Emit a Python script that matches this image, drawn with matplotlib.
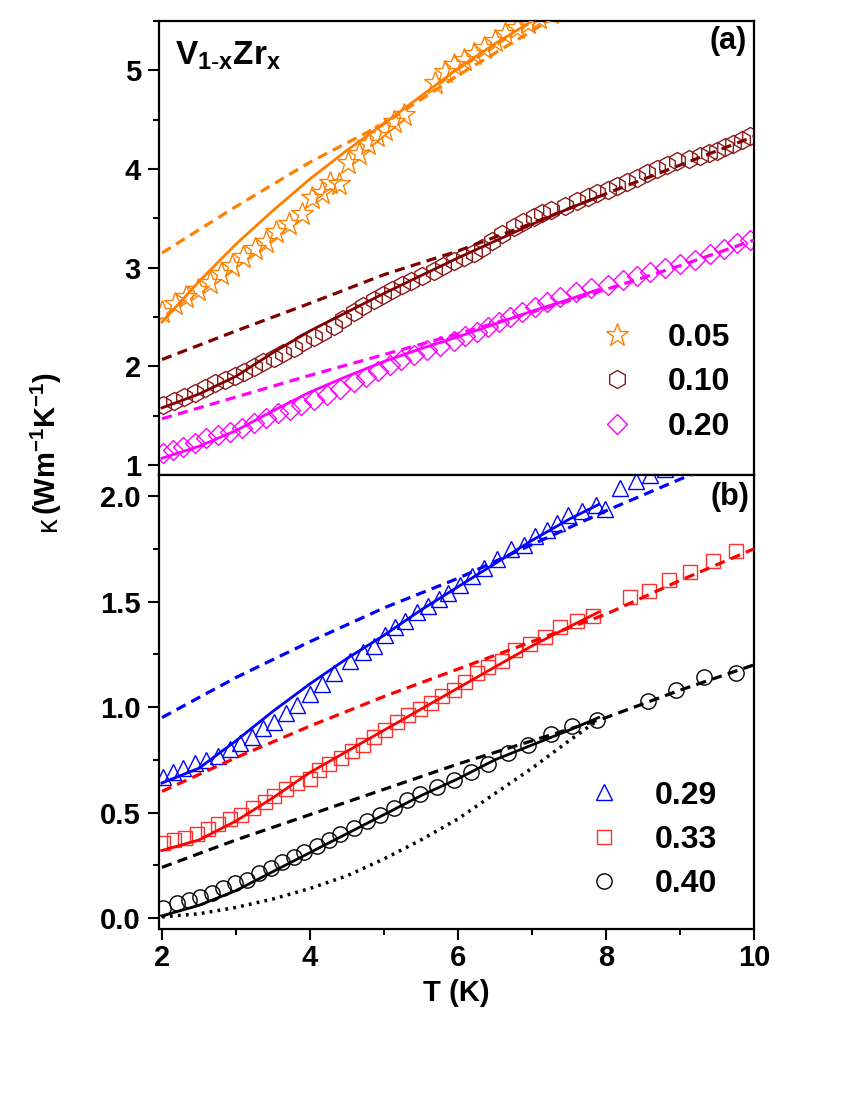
import matplotlib
matplotlib.use("Agg")
import matplotlib.pyplot as plt
from matplotlib.ticker import MultipleLocator, FormatStrFormatter

plt.rcParams['font.family'] = ['Liberation Sans', 'DejaVu Sans']
plt.rcParams['mathtext.default'] = 'regular'

# ---------------- panel (a) data ----------------
T_005 = [2.0, 2.17, 2.33, 2.49, 2.65, 2.8, 2.95, 3.1, 3.26, 3.4, 3.54, 3.71, 3.89, 4.03, 4.16, 4.27,
         4.39, 4.52, 4.66, 4.79, 4.91, 5.02, 5.13, 5.27, 5.69, 5.83, 5.94, 6.08, 6.21, 6.35, 6.5,
         6.64, 6.8, 6.95, 7.1, 7.25]
k_005 = [2.55, 2.63, 2.70, 2.77, 2.85, 2.94, 3.02, 3.11, 3.19, 3.26, 3.36, 3.44, 3.54, 3.71, 3.76, 3.86,
         3.85, 4.06, 4.15, 4.25, 4.33, 4.40, 4.48, 4.55, 4.87, 4.98, 5.05, 5.10, 5.17, 5.23, 5.30,
         5.37, 5.43, 5.48, 5.53, 5.58]

T_010 = [2.02, 2.16, 2.30, 2.44, 2.58, 2.72, 2.85, 2.98, 3.11, 3.24, 3.37, 3.51, 3.64, 3.78, 3.91, 4.05,
         4.18, 4.32, 4.45, 4.59, 4.72, 4.86, 4.98, 5.11, 5.24, 5.37, 5.52, 5.67, 5.80, 5.94, 6.08,
         6.21, 6.33, 6.46, 6.60, 6.75, 6.88, 7.02, 7.14, 7.26, 7.44, 7.61, 7.75, 7.88, 8.02, 8.15,
         8.29, 8.42, 8.56, 8.69, 8.83, 8.96, 9.12, 9.27, 9.39, 9.50, 9.61, 9.72, 9.84, 9.95]
k_010 = [1.61, 1.65, 1.69, 1.73, 1.78, 1.83, 1.86, 1.90, 1.94, 1.99, 2.04, 2.09, 2.14, 2.19, 2.25, 2.30,
         2.35, 2.41, 2.48, 2.55, 2.61, 2.67, 2.72, 2.77, 2.82, 2.87, 2.92, 2.97, 3.02, 3.07, 3.11,
         3.15, 3.20, 3.27, 3.34, 3.41, 3.46, 3.51, 3.55, 3.59, 3.63, 3.68, 3.72, 3.76, 3.79, 3.83,
         3.87, 3.91, 3.96, 4.00, 4.04, 4.08, 4.10, 4.13, 4.16, 4.18, 4.22, 4.25, 4.29, 4.33]

T_020 = [2.02, 2.15, 2.29, 2.44, 2.60, 2.76, 2.92, 3.08, 3.24, 3.41, 3.57, 3.73, 3.88, 4.05, 4.23, 4.41,
         4.59, 4.76, 4.92, 5.08, 5.23, 5.40, 5.58, 5.76, 5.94, 6.10, 6.25, 6.40, 6.55, 6.70, 6.86,
         7.04, 7.20, 7.38, 7.60, 7.80, 8.03, 8.23, 8.42, 8.60, 8.80, 9.00, 9.20, 9.41, 9.60, 9.77, 9.95]
k_020 = [1.12, 1.15, 1.18, 1.22, 1.27, 1.31, 1.34, 1.38, 1.43, 1.48, 1.53, 1.56, 1.61, 1.66, 1.71, 1.77,
         1.84, 1.89, 1.95, 2.01, 2.07, 2.12, 2.17, 2.21, 2.26, 2.31, 2.35, 2.40, 2.45, 2.50, 2.55,
         2.60, 2.65, 2.70, 2.75, 2.79, 2.83, 2.88, 2.92, 2.96, 3.00, 3.04, 3.08, 3.14, 3.19, 3.25, 3.28]

# ---------------- panel (b) data ----------------
T_029 = [2.02, 2.15, 2.29, 2.45, 2.60, 2.76, 2.92, 3.06, 3.22, 3.37, 3.51, 3.67, 3.82, 4.00, 4.16, 4.32,
         4.54, 4.72, 4.86, 5.02, 5.15, 5.29, 5.45, 5.60, 5.74, 5.87, 6.03, 6.19, 6.35, 6.53, 6.71,
         6.89, 7.04, 7.20, 7.34, 7.49, 7.68, 7.86, 7.99, 8.19, 8.40, 8.60, 8.80, 9.00]
k_029 = [0.67, 0.69, 0.71, 0.735, 0.75, 0.77, 0.80, 0.83, 0.86, 0.90, 0.93, 0.97, 1.01, 1.06, 1.11, 1.16,
         1.22, 1.26, 1.29, 1.34, 1.38, 1.41, 1.45, 1.48, 1.51, 1.54, 1.58, 1.62, 1.66, 1.70, 1.75,
         1.77, 1.81, 1.84, 1.87, 1.91, 1.93, 1.96, 1.94, 2.04, 2.07, 2.10, 2.13, 2.16]

T_033 = [2.02, 2.16, 2.31, 2.47, 2.62, 2.76, 2.92, 3.07, 3.23, 3.39, 3.52, 3.68, 3.83, 4.00, 4.12, 4.26,
         4.42, 4.57, 4.71, 4.86, 5.02, 5.18, 5.32, 5.48, 5.63, 5.79, 5.95, 6.10, 6.25, 6.41, 6.59,
         6.77, 6.97, 7.18, 7.38, 7.61, 7.83, 8.33, 8.58, 8.85, 9.14, 9.45, 9.75]
k_033 = [0.355, 0.37, 0.38, 0.40, 0.42, 0.445, 0.47, 0.49, 0.52, 0.55, 0.58, 0.61, 0.64, 0.66, 0.70, 0.73,
         0.76, 0.79, 0.82, 0.86, 0.89, 0.93, 0.96, 0.99, 1.02, 1.05, 1.08, 1.12, 1.16, 1.19, 1.22,
         1.27, 1.30, 1.33, 1.38, 1.41, 1.43, 1.52, 1.55, 1.60, 1.64, 1.69, 1.74]

T_040 = [2.02, 2.20, 2.36, 2.52, 2.67, 2.83, 2.99, 3.15, 3.31, 3.47, 3.62, 3.78, 3.92, 4.10, 4.25, 4.41,
         4.59, 4.77, 4.95, 5.13, 5.31, 5.49, 5.72, 5.94, 6.17, 6.41, 6.68, 6.95, 7.25, 7.54, 7.88,
         8.57, 8.95, 9.33, 9.75]
k_040 = [0.046, 0.07, 0.086, 0.101, 0.117, 0.141, 0.165, 0.18, 0.212, 0.236, 0.267, 0.29, 0.315, 0.339,
         0.37, 0.40, 0.426, 0.458, 0.49, 0.52, 0.56, 0.59, 0.62, 0.655, 0.69, 0.73, 0.78, 0.82, 0.87,
         0.91, 0.94, 1.03, 1.08, 1.14, 1.16]

# ---------------- model curves ----------------
T_fit = [2.0, 2.5, 3.0, 3.5, 4.0, 4.5, 5.0, 5.5, 6.0, 6.5, 7.0, 7.5, 7.9]
fit_005 = [2.45, 2.86, 3.24, 3.58, 3.90, 4.19, 4.46, 4.74, 5.02, 5.27, 5.50, 5.72, 5.90]
fit_010 = [1.58, 1.72, 1.90, 2.14, 2.36, 2.55, 2.74, 2.92, 3.10, 3.27, 3.44, 3.60, 3.72]
fit_020 = [1.07, 1.19, 1.35, 1.55, 1.74, 1.90, 2.05, 2.18, 2.30, 2.43, 2.56, 2.68, 2.78]
fit_029 = [0.64, 0.71, 0.84, 0.98, 1.11, 1.23, 1.34, 1.46, 1.57, 1.68, 1.79, 1.89, 1.96]
fit_033 = [0.32, 0.37, 0.46, 0.57, 0.69, 0.79, 0.89, 0.99, 1.09, 1.19, 1.29, 1.38, 1.45]
fit_040 = [0.01, 0.06, 0.13, 0.22, 0.31, 0.40, 0.49, 0.58, 0.66, 0.75, 0.82, 0.89, 0.95]
dot_040 = [0.005, 0.02, 0.05, 0.09, 0.14, 0.20, 0.28, 0.37, 0.47, 0.59, 0.71, 0.84, 0.94]

T_dash = [2, 3, 4, 5, 6, 7, 8, 9, 10]
dash_005 = [3.15, 3.62, 4.07, 4.46, 4.95, 5.40, 5.85, 6.30, 6.75]
dash_010 = [2.07, 2.36, 2.64, 2.93, 3.17, 3.45, 3.75, 4.04, 4.33]
dash_020 = [1.47, 1.69, 1.91, 2.12, 2.33, 2.55, 2.78, 3.02, 3.28]
dash_029 = [0.95, 1.14, 1.31, 1.47, 1.61, 1.77, 1.93, 2.08, 2.22]
dash_033 = [0.60, 0.76, 0.91, 1.05, 1.18, 1.31, 1.44, 1.60, 1.75]
dash_040 = [0.24, 0.37, 0.49, 0.61, 0.73, 0.84, 0.95, 1.08, 1.20]

labels_a = ['0.05', '0.10', '0.20']
labels_b = ['0.29', '0.33', '0.40']

ORANGE = '#FF8000'
DRED = '#800000'
DRED_M = '#8B1A1A'
MAG = '#FF00FF'
BLUE = '#0000FF'
RED = '#FF0000'
RED_M = '#FF3030'
BLK = '#000000'

fig = plt.figure(figsize=(8.5, 11), dpi=100)
ax1 = fig.add_axes([0.1871, 0.5682, 0.700, 0.4127])
ax2 = fig.add_axes([0.1871, 0.1555, 0.700, 0.4127])

LW = 2.0
DASH = (0, (3.2, 2.0))
DOT = (0, (0.8, 1.5))

def series(ax, T, k, marker, ms, col, label):
    ax.plot(T, k, linestyle='none', marker=marker, ms=ms, mfc='none', mec=col, mew=1.0,
            label=label, zorder=2)

series(ax1, T_005, k_005, '*', 17, ORANGE, labels_a[0])
series(ax1, T_010, k_010, 'h', 13, DRED_M, labels_a[1])
series(ax1, T_020, k_020, 'D', 10, MAG, labels_a[2])
for fit, dash, col in [(fit_005, dash_005, ORANGE), (fit_010, dash_010, DRED), (fit_020, dash_020, MAG)]:
    ax1.plot(T_fit, fit, color=col, lw=LW, zorder=3)
    ax1.plot(T_dash, dash, color=col, lw=2.3, linestyle=DASH, zorder=3)

series(ax2, T_029, k_029, '^', 12, BLUE, labels_b[0])
series(ax2, T_033, k_033, 's', 10.5, RED_M, labels_b[1])
series(ax2, T_040, k_040, 'o', 11, BLK, labels_b[2])
for fit, dash, col in [(fit_029, dash_029, BLUE), (fit_033, dash_033, RED), (fit_040, dash_040, BLK)]:
    ax2.plot(T_fit, fit, color=col, lw=LW, zorder=3)
    ax2.plot(T_dash, dash, color=col, lw=2.3, linestyle=DASH, zorder=3)
ax2.plot(T_fit, dot_040, color=BLK, lw=2.5, linestyle=DOT, zorder=3)

# axes styling
for ax in (ax1, ax2):
    ax.set_xlim(1.96, 10)
    for s in ax.spines.values():
        s.set_linewidth(1.6)
    ax.xaxis.set_major_locator(MultipleLocator(2))
    ax.xaxis.set_minor_locator(MultipleLocator(1))
    ax.tick_params(axis='both', which='both', direction='out', width=1.5,
                   labelsize=21, right=False, top=False)
    ax.tick_params(axis='both', which='major', length=8)
    ax.tick_params(axis='both', which='minor', length=4.5)
    ax.tick_params(axis='y', pad=5)

ax1.set_ylim(0.9, 5.5)
ax1.yaxis.set_major_locator(MultipleLocator(1))
ax1.yaxis.set_minor_locator(MultipleLocator(0.5))
ax1.tick_params(axis='x', which='both', length=8, labelbottom=False)

ax2.set_ylim(-0.052, 2.1)
ax2.yaxis.set_major_locator(MultipleLocator(0.5))
ax2.yaxis.set_minor_locator(MultipleLocator(0.25))
ax2.yaxis.set_major_formatter(FormatStrFormatter('%.1f'))
ax2.tick_params(axis='x', pad=3)

for ax in (ax1, ax2):
    for lab in ax.get_xticklabels() + ax.get_yticklabels():
        lab.set_fontweight('bold')

ax2.set_xlabel('T (K)', fontsize=21, fontweight='bold', labelpad=5)

fig.text(0.055, 1 - 443 / 1100, r'(Wm$^{-1}$K$^{-1}$)', rotation=90, fontsize=21,
         fontweight='bold', ha='center', va='center')
fig.text(0.057, 1 - 524 / 1100, 'κ', rotation=90, fontsize=21, ha='center', va='center')

ax1.text(0.027, 0.905, r'V$_{1\text{-}x}$Zr$_x$', transform=ax1.transAxes, fontsize=24,
         fontweight='bold', va='baseline', ha='left')
ax1.text(0.988, 0.988, '(a)', transform=ax1.transAxes, fontsize=22, fontweight='bold',
         va='top', ha='right')
ax2.text(0.992, 0.985, '(b)', transform=ax2.transAxes, fontsize=22, fontweight='bold',
         va='top', ha='right')

leg_kw = dict(frameon=False, handlelength=1.0, handletextpad=1.1,
              labelspacing=0.45, borderpad=0, borderaxespad=0, loc='center left',
              prop={'weight': 'bold', 'size': 23})
ax1.legend(bbox_to_anchor=(0.743, 0.204), **leg_kw)
ax2.legend(bbox_to_anchor=(0.721, 0.196), **leg_kw)

fig.savefig('out.png', dpi=100)
